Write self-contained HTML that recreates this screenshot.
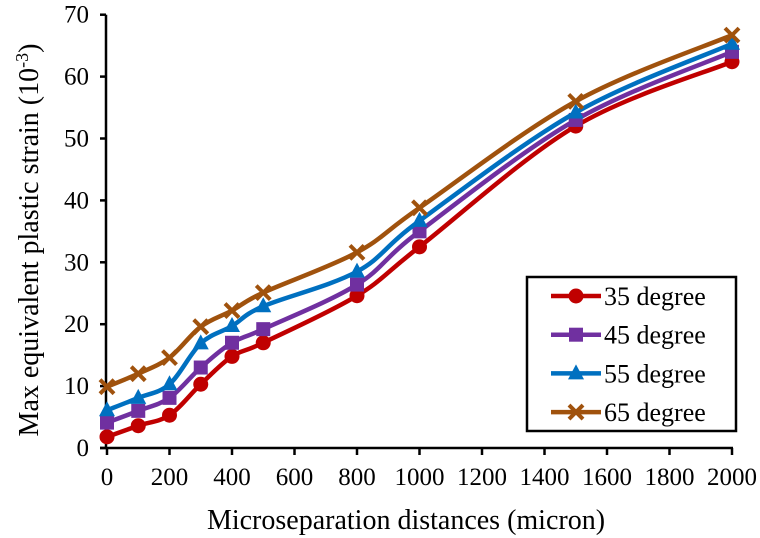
<!DOCTYPE html>
<html><head><meta charset="utf-8"><style>
body{margin:0;background:#fff;}
svg{display:block;font-family:"Liberation Serif",serif;}
</style></head><body>
<svg id="chart" width="760" height="538" viewBox="0 0 760 538">
<g id="axes"></g><g id="series"></g>
<g>
<rect x="527" y="277" width="209" height="154" fill="#fff" stroke="#000" stroke-width="2.5"/>
<g id="legend"></g>
</g>
<text x="406" y="529" font-size="28" text-anchor="middle">Microseparation distances (micron)</text>
<text transform="translate(38,240) rotate(-90)" font-size="28" text-anchor="middle">Max equivalent plastic strain (10<tspan baseline-shift="super" font-size="18">-3</tspan>)</text>
</svg>
<script>
const xValues=[0,100,200,300,400,500,800,1000,1500,2000];
const s35=[1.8,3.6,5.3,10.3,14.8,17.0,24.6,32.5,52.0,62.4];
const s45=[4.1,6.0,8.1,13.0,17.0,19.2,26.4,35.0,53.0,64.0];
const s55=[6.1,8.1,10.3,16.9,19.7,22.9,28.5,36.7,54.2,65.3];
const s65=[9.9,12.0,14.6,19.6,22.2,25.1,31.6,38.8,56.0,66.7];
const seriesNames=["35 degree","45 degree","55 degree","65 degree"];
const xTicks=[0,200,400,600,800,1000,1200,1400,1600,1800,2000];
const yTicks=[0,10,20,30,40,50,60,70];
const colors=["#c00000","#7030a0","#0070c0","#a0520d"];
const markers=["circle","square","triangle","x"];
const X=v=>107+v*0.3125, Y=v=>448-v*6.19;
const NS="http://www.w3.org/2000/svg";
function mk(tag,attrs,parent){const e=document.createElementNS(NS,tag);for(const k in attrs)e.setAttribute(k,attrs[k]);parent.appendChild(e);return e;}
const axes=document.getElementById('axes');
let l=mk('line',{x1:106,y1:Y(70),x2:106,y2:449,stroke:'#000','stroke-width':2.5},axes);


l=mk('line',{x1:100,y1:448,x2:X(2000)+1,y2:448,stroke:'#000','stroke-width':2.5},axes);


yTicks.forEach(v=>{mk('line',{x1:100,y1:Y(v),x2:106,y2:Y(v),stroke:'#000','stroke-width':2.5},axes);
const t=mk('text',{x:89,y:Y(v)+8,'font-size':25,'text-anchor':'end'},axes);t.textContent=v;

});
xTicks.forEach(v=>{mk('line',{x1:X(v),y1:448,x2:X(v),y2:455,stroke:'#000','stroke-width':2.5},axes);
const t=mk('text',{x:X(v),y:485,'font-size':25,'text-anchor':'middle'},axes);t.textContent=v;

});
function spline(pts){let d=`M${pts[0][0]},${pts[0][1]}`;
for(let i=0;i<pts.length-1;i++){const p0=pts[i-1]||pts[i],p1=pts[i],p2=pts[i+1],p3=pts[i+2]||p2;const k=1/6;
d+=` C${p1[0]+(p2[0]-p0[0])*k},${p1[1]+(p2[1]-p0[1])*k} ${p2[0]-(p3[0]-p1[0])*k},${p2[1]-(p3[1]-p1[1])*k} ${p2[0]},${p2[1]}`;}return d;}
function marker(type,x,y,c,g){
if(type==='circle')return mk('circle',{cx:x,cy:y,r:7.5,fill:c},g);
if(type==='square')return mk('rect',{x:x-7,y:y-7,width:14,height:14,fill:c},g);
if(type==='triangle')return mk('polygon',{points:`${x},${y-9} ${x+8},${y+6} ${x-8},${y+6}`,fill:c},g);
return mk('path',{d:`M${x-7},${y-7}L${x+7},${y+7}M${x+7},${y-7}L${x-7},${y+7}`,stroke:c,'stroke-width':4},g);}
const all=[s35,s45,s55,s65];
const sg=document.getElementById('series');
all.forEach((s,i)=>{const g=mk('g',{},sg);


const pts=s.map((v,j)=>[X(xValues[j]),Y(v)]);
mk('path',{d:spline(pts),fill:'none',stroke:colors[i],'stroke-width':4.5},g);
pts.forEach(p=>{const m=marker(markers[i],p[0],p[1],colors[i],g);

});});
const lg=document.getElementById('legend');
seriesNames.forEach((n,i)=>{const y=296+i*38.7;const g=mk('g',{},lg);


mk('line',{x1:551,y1:y,x2:601,y2:y,stroke:colors[i],'stroke-width':4.5},g);
marker(markers[i],576,y,colors[i],g);
const t=mk('text',{x:604,y:y+9,'font-size':26},g);t.textContent=n;});
</script>
</body></html>
